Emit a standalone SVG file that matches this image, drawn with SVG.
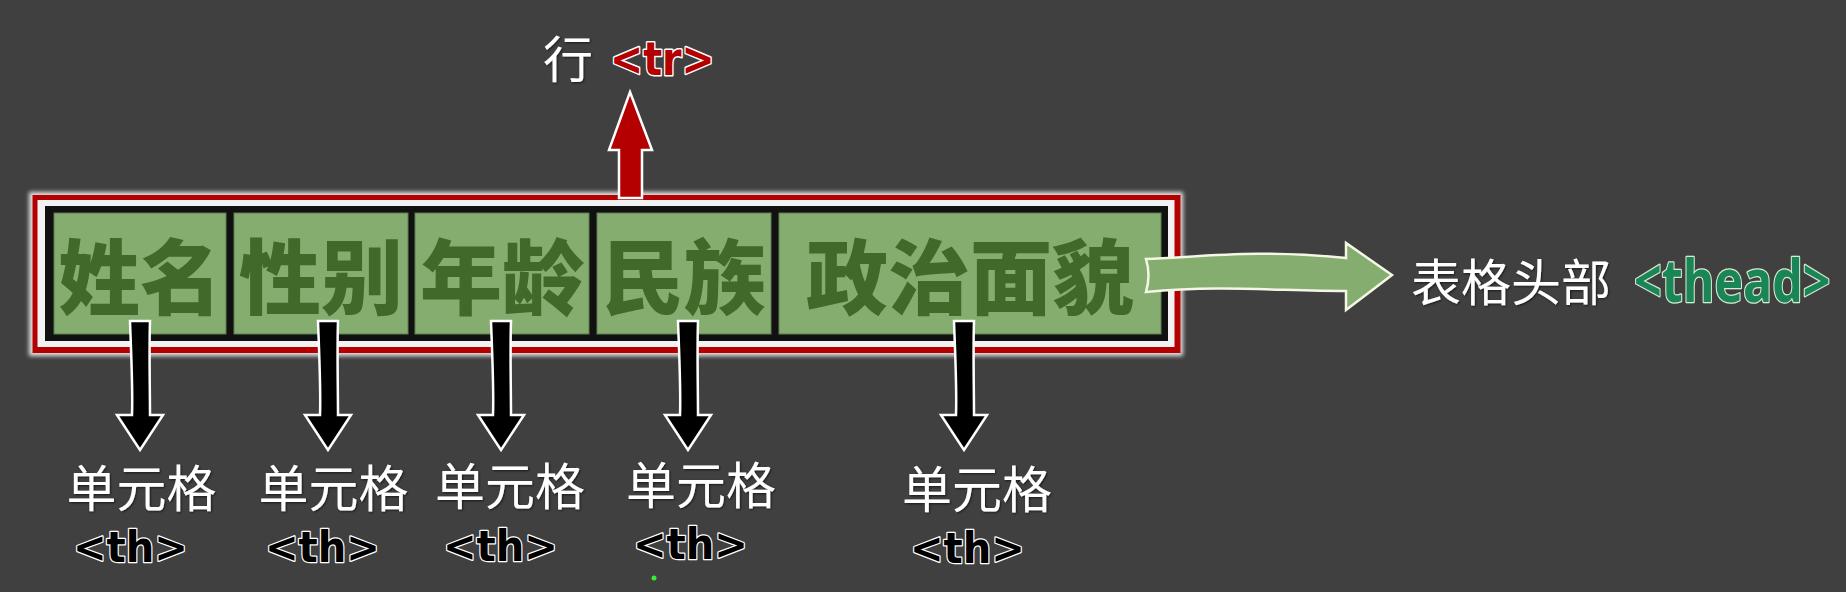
<svg xmlns="http://www.w3.org/2000/svg" width="1846" height="592" viewBox="0 0 1846 592">
<defs>
<style>
.cell{fill:#85ad6f;stroke:#5f7f52;stroke-width:1}
.ct{font-family:"Noto Sans CJK SC","Liberation Sans",sans-serif;font-weight:900;font-size:82px;fill:#41692a;text-anchor:middle}
.wt{font-family:"Noto Sans CJK SC","Liberation Sans",sans-serif;font-size:50px;fill:#ffffff}
.lbl{text-anchor:middle}
.th{font-family:"DejaVu Sans","Verdana",sans-serif;font-weight:bold;font-size:42px;fill:#000;stroke:#ffffff;stroke-width:2.5;paint-order:stroke;stroke-linejoin:round}
.darr{fill:#000;stroke:#ffffff;stroke-width:2.5;stroke-linejoin:miter}
</style>
<filter id="glow" x="-5%" y="-20%" width="110%" height="140%">
<feGaussianBlur stdDeviation="2"/>
</filter>
<filter id="sh" x="-10%" y="-20%" width="120%" height="140%">
<feDropShadow dx="1" dy="1" stdDeviation="1" flood-color="#000" flood-opacity="0.6"/>
</filter>
</defs>
<rect width="1846" height="592" fill="#404040"/>

<g id="frame">
<rect x="29" y="192" width="1154" height="164" fill="#ffffff" opacity="0.85" filter="url(#glow)"/>
<rect x="32.5" y="195" width="1148" height="158" fill="#b40000"/>
<rect x="37.5" y="200" width="1137" height="147" fill="#f2f2f2"/>
<rect x="45" y="206" width="1123" height="135" fill="#111111"/>
</g>

<g id="cell-name"><rect class="cell" x="54" y="213" width="172" height="121"/><text class="ct" x="140" y="308">姓名</text></g>
<g id="cell-gender"><rect class="cell" x="234" y="213" width="174" height="121"/><text class="ct" x="321" y="308">性别</text></g>
<g id="cell-age"><rect class="cell" x="415" y="213" width="174" height="121"/><text class="ct" x="502" y="308">年龄</text></g>
<g id="cell-nation"><rect class="cell" x="597" y="213" width="174" height="121"/><text class="ct" x="684" y="308">民族</text></g>
<g id="cell-politics"><rect class="cell" x="779" y="213" width="382" height="121"/><text class="ct" x="970" y="308">政治面貌</text></g>

<g id="connectors">
<path d="M630,92 L652,150 L642,150 L642,198 L619,198 L619,150 L609,150 Z" fill="#b40000" stroke="#ffffff" stroke-width="2.5"/>
<path d="M1146,259 C1200,257 1260,249 1346,258 L1346,243 L1392,275 L1346,310 L1346,291 C1280,291 1220,285 1146,292 Q1151,275 1146,259 Z" fill="#85ad6f" stroke="#f4f6e6" stroke-width="2.5"/>
<path class="darr" d="M130,321 C131,350 133,390 132,415 L117,415 L140,450 L163,415 L150,415 C150,390 149,350 150,321 Z"/>
<path class="darr" d="M318,321 C319,350 321,390 320,415 L305,415 L328,450 L351,415 L338,415 C338,390 337,350 338,321 Z"/>
<path class="darr" d="M491,321 C492,350 494,390 493,415 L478,415 L501,450 L524,415 L511,415 C511,390 510,350 511,321 Z"/>
<path class="darr" d="M678,321 C679,350 681,390 680,415 L665,415 L688,450 L711,415 L698,415 C698,390 697,350 698,321 Z"/>
<path class="darr" d="M954,321 C955,350 957,390 956,415 L941,415 L964,450 L987,415 L974,415 C974,390 973,350 974,321 Z"/>
</g>

<g id="label-tr">
<text class="wt" x="543" y="78" filter="url(#sh)">行</text>
<text transform="translate(610,75) scale(0.86,1)" x="0" y="0" font-family="DejaVu Sans, sans-serif" font-weight="bold" font-size="46" fill="#b40000" stroke="#ffffff" stroke-width="3" paint-order="stroke" stroke-linejoin="round">&lt;tr&gt;</text>
</g>

<g id="label-thead">
<text class="wt" x="1411" y="301" filter="url(#sh)">表格头部</text>
<text transform="translate(1634,302) scale(0.82,1)" x="0" y="0" font-family="Open Sans, DejaVu Sans, sans-serif" font-weight="bold" font-size="59" fill="#1a8658" stroke="#d8ead0" stroke-width="2.5" paint-order="stroke" stroke-linejoin="round">&lt;thead&gt;</text>
</g>

<g id="label-th1"><text class="wt lbl" x="141.5" y="507" filter="url(#sh)">单元格</text><text class="th" x="73" y="562" textLength="115" lengthAdjust="spacingAndGlyphs">&lt;th&gt;</text></g>
<g id="label-th2"><text class="wt lbl" x="333.5" y="507" filter="url(#sh)">单元格</text><text class="th" x="265" y="562" textLength="115" lengthAdjust="spacingAndGlyphs">&lt;th&gt;</text></g>
<g id="label-th3"><text class="wt lbl" x="510" y="505" filter="url(#sh)">单元格</text><text class="th" x="443" y="561" textLength="115" lengthAdjust="spacingAndGlyphs">&lt;th&gt;</text></g>
<g id="label-th4"><text class="wt lbl" x="701" y="504" filter="url(#sh)">单元格</text><text class="th" x="633" y="559" textLength="115" lengthAdjust="spacingAndGlyphs">&lt;th&gt;</text></g>
<g id="label-th5"><text class="wt lbl" x="977" y="508" filter="url(#sh)">单元格</text><text class="th" x="910" y="563" textLength="115" lengthAdjust="spacingAndGlyphs">&lt;th&gt;</text></g>

<circle cx="654" cy="578" r="2.5" fill="#33ee33"/>
</svg>
